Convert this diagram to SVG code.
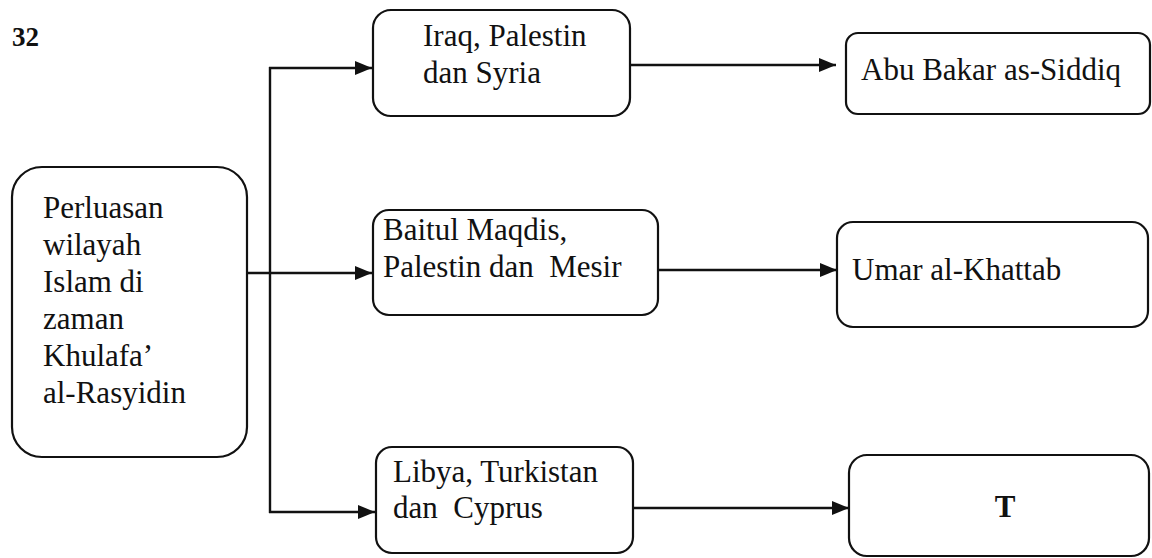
<svg xmlns="http://www.w3.org/2000/svg" width="1152" height="558" viewBox="0 0 1152 558">
<style>
.box{fill:#fff;stroke:#111;stroke-width:2.2}
.t{font-family:"Liberation Serif","Times New Roman",serif;font-size:31px;fill:#111;white-space:pre}
.b{font-weight:bold}
.n{font-family:"Liberation Serif","Times New Roman",serif;font-size:27px;font-weight:bold;fill:#111}
.c{fill:none;stroke:#111;stroke-width:2.4}
</style>
<defs>
<marker id="ah" markerUnits="userSpaceOnUse" markerWidth="18" markerHeight="14" refX="17" refY="7" orient="auto">
<path d="M0,0 L17,7 L0,14 z" fill="#111"/>
</marker>
</defs>
<rect width="1152" height="558" fill="#fff"/>
<text class="n" x="12" y="46">32</text>
<g id="connectors">
<path class="c" d="M247 273 H372" marker-end="url(#ah)"/>
<path class="c" d="M270 67 V513"/>
<path class="c" d="M269 68 H372" marker-end="url(#ah)"/>
<path class="c" d="M269 512 H375" marker-end="url(#ah)"/>
<path class="c" d="M630 65 H836" marker-end="url(#ah)"/>
<path class="c" d="M658 270 H837" marker-end="url(#ah)"/>
<path class="c" d="M633 508 H849" marker-end="url(#ah)"/>
</g>
<g id="main">
<rect class="box" x="12" y="167" width="235" height="290" rx="30"/>
<text class="t" x="43" y="218">Perluasan</text>
<text class="t" x="43" y="255">wilayah</text>
<text class="t" x="43" y="292">Islam di</text>
<text class="t" x="43" y="329">zaman</text>
<text class="t" x="43" y="366">Khulafa’</text>
<text class="t" x="43" y="403">al-Rasyidin</text>
</g>
<g id="iraq">
<rect class="box" x="373" y="10" width="257" height="106" rx="18"/>
<text class="t" x="423" y="46">Iraq, Palestin</text>
<text class="t" x="423" y="83">dan Syria</text>
</g>
<g id="baitul">
<rect class="box" x="373" y="210" width="285" height="105" rx="16"/>
<text class="t" x="383" y="240">Baitul Maqdis,</text>
<text class="t" x="383" y="277">Palestin dan  Mesir</text>
</g>
<g id="libya">
<rect class="box" x="376" y="447" width="257" height="106" rx="16"/>
<text class="t" x="393" y="482">Libya, Turkistan</text>
<text class="t" x="393" y="518">dan  Cyprus</text>
</g>
<g id="abu">
<rect class="box" x="846" y="33" width="304" height="81" rx="12"/>
<text class="t" x="861" y="80">Abu Bakar as-Siddiq</text>
</g>
<g id="umar">
<rect class="box" x="837" y="222" width="311" height="105" rx="16"/>
<text class="t" x="852" y="280">Umar al-Khattab</text>
</g>
<g id="t">
<rect class="box" x="849" y="455" width="300" height="101" rx="18"/>
<text class="t b" x="1005" y="517" text-anchor="middle">T</text>
</g>
</svg>
